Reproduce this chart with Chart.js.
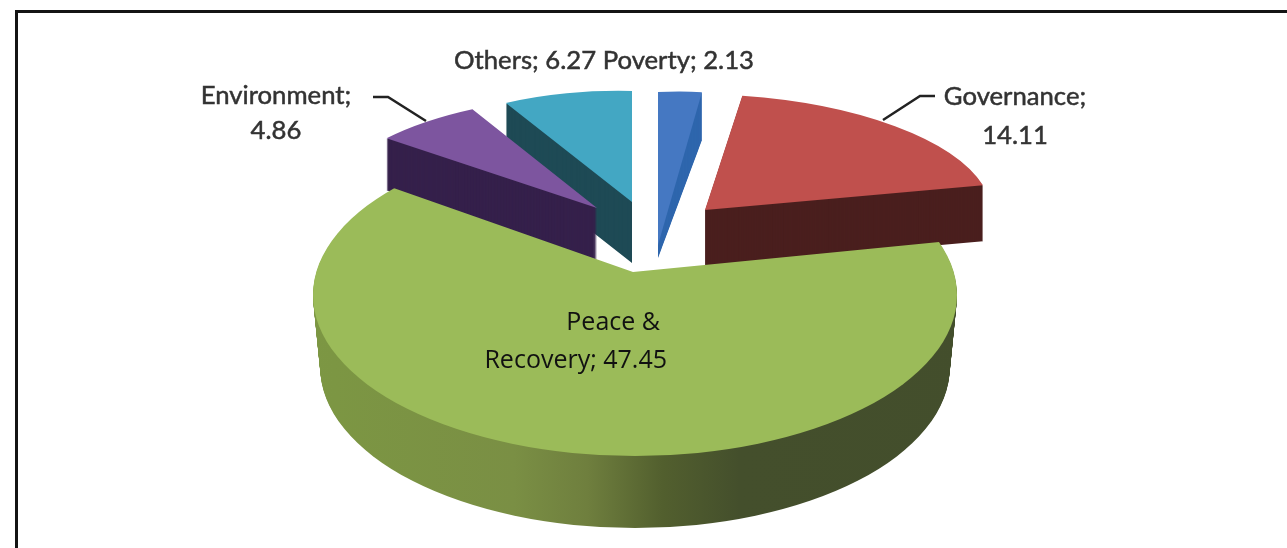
<!DOCTYPE html>
<html>
<head>
<meta charset="utf-8">
<title>Funding by sector</title>
<script src="https://cdn.jsdelivr.net/npm/chart.js@4"></script>
<style>
    html, body { margin: 0; padding: 0; background: #fff; }
    #wrap { position: relative; width: 1287px; height: 548px; overflow: hidden; }
    #frame { position: absolute; left: 15px; top: 10px; width: 1300px; height: 600px; border: 3px solid #141414; }
    #sectorChart { position: absolute; left: 0; top: 0; }
</style>
</head>
<body>
<div id="wrap">
    <div id="frame"></div>
    <canvas id="sectorChart" width="1287" height="548"></canvas>
</div>
<script>
const sectors = ['Poverty', 'Governance', 'Peace & Recovery', 'Environment', 'Others'];
const shares = [2.13, 14.11, 47.45, 4.86, 6.27];
const topColors = ['#4578c2', '#c0504d', '#9bbb59', '#7d559f', '#43a7c3'];
const wallColors = ['#2f66ad', '#4a1f1e', '#5e7a35', '#35204b', '#1e4a55'];

// where each slice lands on the page: tip plus the images of the unit right/up vectors
const placements = [
    // thin slice: its top face runs further down than the wall stack's own tip
    { x: 658, y: 210, ux: 247, uy: -11, vx: 0, vy: -118, depth: 48,
      face: { x: 658, y: 245, ux: 247, uy: -13, vx: 0, vy: -153 } },
    { x: 705, y: 210, ux: 287, uy: -1, vx: -14, vy: -116, depth: 56 },
    // big slice: an oversized wedge trimmed by its ellipse, the tip sits above the ellipse centre
    { x: 633, y: 272, ux: 459, uy: -2, vx: 36, vy: -208, depth: 72,
      trim: { x: 635, y: 295, rx: 322, ry: 161, narrowing: 0.1 } },
    { x: 597, y: 208, ux: 272, uy: 4, vx: 14, vy: -112, depth: 52 },
    { x: 632, y: 202, ux: 251, uy: 6, vx: 0, vy: -111, depth: 61 }
];
const drawOrder = [0, 4, 3, 1, 2];

const calloutLabels = [
    { lines: ['Environment;', '4.86'], x: 276, y: 96, lineHeight: 35 },
    { lines: ['Governance;', '14.11'], x: 1015, y: 97, lineHeight: 39 },
    { lines: ['Others; 6.27 Poverty; 2.13'], x: 604, y: 61, lineHeight: 0 }
];
const leaderLines = [
    [[373, 97], [388, 97], [426, 121]],
    [[935, 96], [920, 96], [883, 120]]
];

function placeSlice(ctx, arc, p, trim, d) {
    if (trim) {
        // lower copies of the rim pull in a little, the far end of the drum looks narrower
        ctx.beginPath();
        ctx.ellipse(trim.x, trim.y, trim.rx - d * trim.narrowing, trim.ry, 0, 0, Math.PI * 2);
        ctx.clip();
    }
    const r = arc.outerRadius;
    // move the arc's own centre onto the placement, flattening it into an ellipse
    ctx.transform(p.ux / r, p.uy / r, -p.vx / r, -p.vy / r, p.x, p.y);
    ctx.translate(-arc.x, -arc.y);
}

function paintArc(ctx, arc, fill) {
    const saved = arc.options;
    arc.options = {
        backgroundColor: fill, borderWidth: 0, borderColor: fill, borderAlign: 'center',
        borderRadius: 0, spacing: 0, offset: 0, circular: true
    };
    arc.draw(ctx);
    arc.options = saved;
}

function peaceRimGradient(ctx) {
    const g = ctx.createLinearGradient(313, 0, 957, 0);
    g.addColorStop(0, '#7e9c46');
    g.addColorStop(0.25, '#7c9643');
    g.addColorStop(0.43, '#7a8f44');
    g.addColorStop(0.5, '#6f7f3e');
    g.addColorStop(0.57, '#525f2e');
    g.addColorStop(0.64, '#444f2c');
    g.addColorStop(0.85, '#434e2c');
    g.addColorStop(1, '#4a5530');
    return g;
}

const pseudo3dPie = {
    id: 'pseudo3dPie',
    beforeDatasetsDraw(chart) {
        const ctx = chart.ctx;
        const arcs = chart.getDatasetMeta(0).data;
        drawOrder.forEach(i => {
            const p = placements[i];
            // side walls first, stacked copies pushed down the page
            for (let d = p.depth; d > 0; d--) {
                ctx.save();
                ctx.translate(0, d);
                const wall = i === 2 ? peaceRimGradient(ctx) : wallColors[i];
                placeSlice(ctx, arcs[i], p, p.trim, d);
                paintArc(ctx, arcs[i], wall);
                ctx.restore();
            }
            ctx.save();
            placeSlice(ctx, arcs[i], p.face || p, p.trim, 0);
            paintArc(ctx, arcs[i], topColors[i]);
            ctx.restore();
        });
        return false;
    },
    afterDraw(chart) {
        const ctx = chart.ctx;
        ctx.save();

        ctx.strokeStyle = '#222';
        ctx.lineWidth = 2.5;
        leaderLines.forEach(line => {
            ctx.beginPath();
            line.forEach((pt, i) => i ? ctx.lineTo(pt[0], pt[1]) : ctx.moveTo(pt[0], pt[1]));
            ctx.stroke();
        });

        ctx.fillStyle = '#333';
        ctx.strokeStyle = '#333';
        ctx.lineWidth = 0.5;
        ctx.font = '25.7px Lato, sans-serif';
        ctx.textBaseline = 'middle';
        ctx.textAlign = 'center';
        calloutLabels.forEach(l => {
            l.lines.forEach((text, i) => {
                ctx.fillText(text, l.x, l.y + i * l.lineHeight);
                ctx.strokeText(text, l.x, l.y + i * l.lineHeight);
            });
        });

        // label sitting on the slice itself
        ctx.fillStyle = '#111';
        ctx.font = '25px "Open Sans", sans-serif';
        ctx.textAlign = 'right';
        ctx.fillText('Peace &', 660, 323);
        ctx.fillText('Recovery; ' + shares[2], 667, 361);
        ctx.restore();
    }
};

new Chart(document.getElementById('sectorChart'), {
    type: 'pie',
    data: {
        labels: sectors,
        datasets: [{ data: shares, backgroundColor: topColors, borderWidth: 0 }]
    },
    plugins: [pseudo3dPie],
    options: {
        responsive: false,
        animation: false,
        plugins: {
            legend: { display: false },
            tooltip: { enabled: false }
        }
    }
});
</script>
</body>
</html>
